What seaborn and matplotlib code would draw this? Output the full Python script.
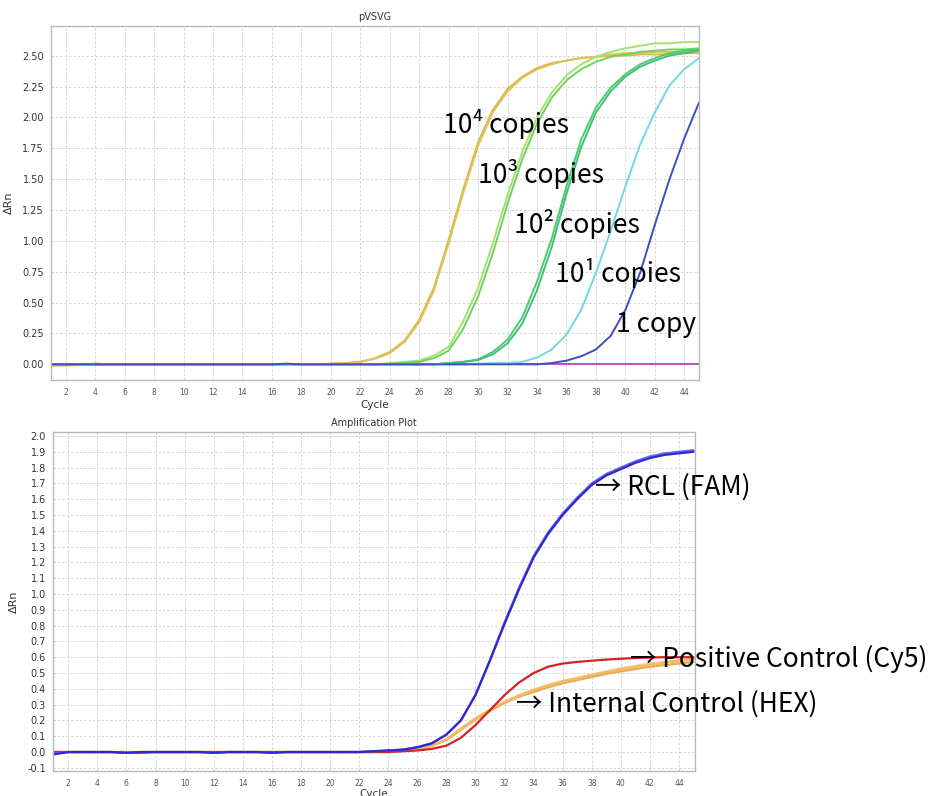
import numpy as np
import pandas as pd
import matplotlib
matplotlib.use("Agg")
import matplotlib.pyplot as plt
import seaborn as sns

# ---------------- data ----------------
cycles = list(range(1, 46))

# top panel: pVSVG dilution series (values at cycles 1..45)
top_names = ["NTC", "1e4_a", "1e4_b", "1e3_a", "1e3_b", "1e2_a", "1e2_b", "1e1", "1copy"]
top_colors = ["#c24fc4", "#d8b84a", "#e0c25a", "#a6e070", "#6fd25c", "#52c96a", "#3fbf7c", "#72d8e2", "#3b4fc0"]

ntc = [0.0] * 45
c1e4_a = [-0.01, -0.01, -0.005, 0.0, 0.0, 0.0, 0.0, 0.0, 0.0, 0.0, 0.0, 0.0, 0.0, 0.0, 0.0, 0.0, 0.0, 0.0, 0.0,
          0.005, 0.01, 0.02, 0.05, 0.10, 0.19, 0.36, 0.62, 1.01, 1.42, 1.80, 2.06, 2.23, 2.33, 2.40, 2.44,
          2.46, 2.48, 2.49, 2.50, 2.50, 2.51, 2.51, 2.51, 2.52, 2.52]
c1e4_b = [0.0, 0.0, 0.0, 0.0, 0.0, 0.0, 0.0, 0.0, 0.0, 0.0, 0.0, 0.0, 0.0, 0.0, 0.0, 0.0, 0.0, 0.0, 0.0,
          0.005, 0.01, 0.02, 0.045, 0.09, 0.18, 0.34, 0.60, 0.98, 1.39, 1.77, 2.04, 2.21, 2.32, 2.39, 2.43,
          2.46, 2.48, 2.49, 2.51, 2.52, 2.52, 2.53, 2.53, 2.53, 2.53]
c1e3_a = [0.0, 0.0, 0.0, 0.005, 0.0, 0.0, 0.0, 0.0, 0.0, 0.0, 0.0, 0.0, 0.0, 0.0, 0.0, 0.0, 0.0, 0.0, 0.0,
          0.0, 0.0, 0.0, 0.0, 0.01, 0.02, 0.03, 0.07, 0.14, 0.35, 0.62, 0.98, 1.37, 1.72, 2.00, 2.20,
          2.34, 2.43, 2.49, 2.53, 2.56, 2.58, 2.60, 2.60, 2.61, 2.61]
c1e3_b = [0.0, 0.0, 0.0, 0.005, 0.0, 0.0, 0.0, 0.0, 0.0, 0.0, 0.0, 0.0, 0.0, 0.0, 0.0, 0.0, 0.0, 0.0, 0.0,
          0.0, 0.0, 0.0, 0.0, 0.005, 0.01, 0.02, 0.05, 0.11, 0.29, 0.55, 0.90, 1.30, 1.66, 1.95, 2.16,
          2.30, 2.39, 2.45, 2.49, 2.51, 2.53, 2.54, 2.55, 2.55, 2.56]
c1e2_a = [0.0, 0.0, 0.0, 0.0, 0.0, 0.0, 0.0, 0.0, 0.0, 0.0, 0.0, 0.0, 0.0, 0.0, 0.0, 0.0, 0.0, 0.0, 0.0,
          0.0, 0.0, 0.0, 0.0, 0.0, 0.0, 0.0, 0.0, 0.01, 0.02, 0.04, 0.10, 0.20, 0.38, 0.67, 1.02,
          1.44, 1.82, 2.08, 2.24, 2.35, 2.43, 2.48, 2.52, 2.54, 2.55]
c1e2_b = [0.0, 0.0, 0.0, 0.0, 0.0, 0.0, 0.0, 0.0, 0.0, 0.0, 0.0, 0.0, 0.0, 0.0, 0.0, 0.0, 0.0, 0.0, 0.0,
          0.0, 0.0, 0.0, 0.0, 0.0, 0.0, 0.0, 0.0, 0.01, 0.02, 0.035, 0.08, 0.17, 0.33, 0.60, 0.95,
          1.38, 1.76, 2.04, 2.21, 2.33, 2.41, 2.46, 2.50, 2.52, 2.54]
c1e1 = [0.0, 0.0, 0.0, 0.0, 0.0, 0.0, 0.0, 0.0, 0.0, 0.0, 0.0, 0.0, 0.0, 0.0, 0.0, 0.0, 0.0, 0.0, 0.0,
        0.0, 0.0, 0.0, 0.0, 0.0, 0.0, 0.0, 0.0, 0.0, 0.0, 0.005, 0.01, 0.01, 0.02, 0.055, 0.12,
        0.24, 0.44, 0.74, 1.08, 1.44, 1.78, 2.04, 2.26, 2.39, 2.48]
c1copy = [0.0, 0.0, 0.0, 0.0, 0.0, 0.0, 0.0, 0.0, 0.0, 0.0, 0.0, 0.0, 0.0, 0.0, 0.0, 0.0, 0.005, 0.0, 0.0,
          0.0, 0.0, 0.0, 0.0, 0.0, 0.0, 0.0, 0.0, 0.0, 0.0, 0.0, 0.0, 0.0, 0.0, 0.0, 0.01,
          0.03, 0.065, 0.12, 0.23, 0.44, 0.74, 1.13, 1.50, 1.83, 2.12]
top_series = [ntc, c1e4_a, c1e4_b, c1e3_a, c1e3_b, c1e2_a, c1e2_b, c1e1, c1copy]

top_labels = ["10\u2074 copies", "10\u00b3 copies", "10\u00b2 copies", "10\u00b9 copies", "1 copy"]

# bottom panel: Amplification Plot
bot_names = ["IC_a", "IC_b", "IC_c", "PC", "RCL_b", "RCL_a"]
bot_colors = ["#f6c880", "#e9a94c", "#f0bb66", "#d42226", "#6a6ae8", "#2a2ad0"]

ic_a = [0.0, 0.0, 0.0, 0.0, 0.0, 0.0, 0.0, 0.0, 0.0, 0.0, 0.0, 0.0, 0.0, 0.0, 0.0, 0.0, 0.0, 0.0, 0.0,
        0.0, 0.0, 0.0, 0.0, 0.005, 0.01, 0.02, 0.04, 0.08, 0.15, 0.215, 0.27, 0.32, 0.36, 0.395, 0.425,
        0.45, 0.47, 0.49, 0.51, 0.53, 0.545, 0.56, 0.57, 0.58, 0.59]
ic_b = [0.0, 0.0, 0.0, 0.0, 0.0, 0.0, 0.0, 0.0, 0.0, 0.0, 0.0, 0.0, 0.0, 0.0, 0.0, 0.0, 0.0, 0.0, 0.0,
        0.0, 0.0, 0.0, 0.0, 0.005, 0.01, 0.02, 0.04, 0.075, 0.14, 0.205, 0.26, 0.31, 0.35, 0.38, 0.41,
        0.435, 0.455, 0.475, 0.495, 0.51, 0.525, 0.54, 0.55, 0.56, 0.57]
ic_c = [0.0, 0.0, 0.0, 0.0, 0.0, 0.0, 0.0, 0.0, 0.0, 0.0, 0.0, 0.0, 0.0, 0.0, 0.0, 0.0, 0.0, 0.0, 0.0,
        0.0, 0.0, 0.0, 0.0, 0.005, 0.01, 0.02, 0.04, 0.08, 0.145, 0.21, 0.265, 0.315, 0.355, 0.39, 0.42,
        0.445, 0.465, 0.485, 0.505, 0.52, 0.535, 0.55, 0.565, 0.575, 0.585]
pc = [0.0, 0.0, 0.0, 0.0, 0.0, -0.005, -0.005, 0.0, 0.0, 0.0, 0.0, 0.0, 0.0, 0.0, 0.0, 0.0, 0.0, 0.0, 0.0,
      0.0, 0.0, 0.0, 0.0, 0.0, 0.005, 0.01, 0.02, 0.04, 0.09, 0.17, 0.265, 0.36, 0.44, 0.50, 0.54,
      0.56, 0.57, 0.578, 0.585, 0.59, 0.595, 0.598, 0.60, 0.60, 0.60]
rcl_b = [-0.01, 0.0, 0.0, 0.0, 0.0, -0.005, 0.0, 0.0, 0.0, 0.0, 0.0, -0.005, 0.0, 0.0, 0.0, -0.005, 0.0, 0.0, 0.0,
         0.0, 0.0, 0.0, 0.005, 0.01, 0.015, 0.03, 0.055, 0.11, 0.20, 0.36, 0.58, 0.82, 1.04, 1.24, 1.39,
         1.51, 1.61, 1.70, 1.76, 1.80, 1.84, 1.87, 1.89, 1.90, 1.91]
rcl_a = [-0.015, 0.0, 0.0, 0.0, 0.0, -0.005, 0.0, 0.0, 0.0, 0.0, 0.0, -0.005, 0.0, 0.0, 0.0, -0.005, 0.0, 0.0, 0.0,
         0.0, 0.0, 0.0, 0.005, 0.01, 0.015, 0.03, 0.055, 0.11, 0.20, 0.36, 0.58, 0.81, 1.03, 1.23, 1.38,
         1.50, 1.60, 1.69, 1.75, 1.79, 1.83, 1.86, 1.88, 1.89, 1.90]
bot_series = [ic_a, ic_b, ic_c, pc, rcl_b, rcl_a]

bot_labels = ["\u2192 RCL (FAM)", "\u2192 Positive Control (Cy5)", "\u2192 Internal Control (HEX)"]

# ---------------- build long tables ----------------
def long_df(names, series):
    rows = []
    for n, s in zip(names, series):
        for c, v in zip(cycles, s):
            rows.append((n, c, v))
    return pd.DataFrame(rows, columns=["series", "Cycle", "dRn"])

df_top = long_df(top_names, top_series)
df_bot = long_df(bot_names, bot_series)

# ---------------- figure ----------------
sns.set_style("white")
plt.rcParams["font.family"] = ["DejaVu Sans"]

W, H = 932, 796
fig = plt.figure(figsize=(W / 100, H / 100), dpi=100)

def px_axes(l, t, r, b):
    return fig.add_axes([l / W, 1 - b / H, (r - l) / W, (b - t) / H])

ax1 = px_axes(51, 26, 699, 380)
ax2 = px_axes(53, 432, 695, 771)

sns.lineplot(data=df_top, x="Cycle", y="dRn", hue="series", hue_order=top_names,
             palette=dict(zip(top_names, top_colors)), legend=False, ax=ax1,
             linewidth=1.4, estimator=None)
sns.lineplot(data=df_bot, x="Cycle", y="dRn", hue="series", hue_order=bot_names,
             palette=dict(zip(bot_names, bot_colors)), legend=False, ax=ax2,
             linewidth=1.6, estimator=None)

grid_kw = dict(color="#d4d4d4", linestyle=(0, (2.5, 2)), linewidth=0.7)

ax1.set_xlim(1, 45)
ax1.set_ylim(-0.127, 2.74)
ax1.set_xticks(range(2, 46, 2))
ax1.set_yticks(np.arange(0, 2.51, 0.25))
ax1.set_yticklabels([f"{v:.2f}" for v in np.arange(0, 2.51, 0.25)])
ax1.set_title("pVSVG", fontsize=7, color="#333333", pad=4)

ax2.set_xlim(0.95, 45.1)
ax2.set_ylim(-0.12, 2.025)
ax2.set_xticks(range(2, 46, 2))
ax2.set_yticks(np.round(np.arange(-0.1, 2.01, 0.1), 1))
ax2.set_yticklabels([f"{v:.1f}" for v in np.round(np.arange(-0.1, 2.01, 0.1), 1)])
ax2.set_title("Amplification Plot", fontsize=7, color="#333333", pad=4)

for ax in (ax1, ax2):
    ax.grid(True, **grid_kw)
    ax.set_axisbelow(True)
    for sp in ax.spines.values():
        sp.set_color("#b8b8b8")
        sp.set_linewidth(1.0)
    ax.tick_params(axis="x", labelsize=5.5, colors="#555555", length=3, width=0.6, pad=3)
    ax.tick_params(axis="y", labelsize=7, colors="#333333", length=3, width=0.6, pad=2)
    ax.set_ylabel("\u0394Rn", fontsize=8, color="#333333", labelpad=6)

ax1.set_xlabel("Cycle", fontsize=7.5, color="#333333", labelpad=2)
ax2.set_xlabel("Cycle", fontsize=7.5, color="#333333", labelpad=0.5)

# ---------------- annotations ----------------
ann_font = ["Noto Sans CJK JP", "DejaVu Sans"]
top_pos = [(443, 133), (478, 183), (514, 233), (555, 282), (616, 332)]
for lab, (x, y) in zip(top_labels, top_pos):
    fig.text(x / W, 1 - y / H, lab, fontsize=19, family=ann_font, ha="left", va="baseline", color="black")

bot_pos = [(595, 495), (630, 667), (516, 712)]
for lab, (x, y) in zip(bot_labels, bot_pos):
    fig.text(x / W, 1 - y / H, lab, fontsize=19, family=ann_font, ha="left", va="baseline", color="black")

fig.savefig("out.png", dpi=100)
